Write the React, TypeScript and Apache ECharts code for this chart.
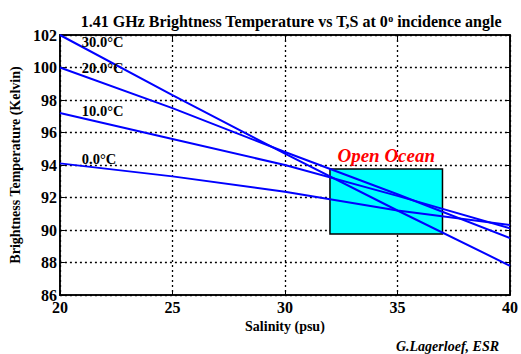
import React, { useEffect, useRef } from "react";
import * as echarts from "echarts";

const salinity = [20, 25, 30, 35, 40];
const tb30 = [102.0, 98.3, 94.7, 91.2, 87.8];
const tb20 = [100.0, 97.5, 94.8, 92.2, 89.5];
const tb10 = [97.2, 95.6, 94.0, 92.1, 90.1];
const tb0 = [94.1, 93.3, 92.35, 91.2, 90.3];
const curveNames = ["30.0°C", "20.0°C", "10.0°C", "0.0°C"];
const curves = [tb30, tb20, tb10, tb0];
const labelAnchors: [number, number][] = [
  [20.95, 101.6],
  [20.95, 99.95],
  [20.95, 97.3],
  [20.95, 94.4],
];
const oceanSal = [32, 37];
const oceanTb = [89.75, 93.75];
const xTicks = [20, 25, 30, 35, 40];
const yTicks = [86, 88, 90, 92, 94, 96, 98, 100, 102];

const SERIF = "'Liberation Serif', 'Times New Roman', serif";

export default function App() {
  const ref = useRef<HTMLDivElement>(null);
  useEffect(() => {
    if (!ref.current) return;
    const chart = echarts.init(ref.current, undefined, { renderer: "svg" });
    const gridLine = {
      show: true,
      lineStyle: { color: "#000", width: 1.3, type: [2, 3] as any },
    };
    const lineSeries = curves.map((vals, i) => ({
      name: curveNames[i],
      type: "line",
      z: 3,
      symbol: "none",
      data: salinity.map((s, j) => [s, vals[j]]),
      lineStyle: { color: "#0000ff", width: 2 },
      markPoint: {
        symbol: "rect",
        symbolSize: 1,
        itemStyle: { color: "transparent" },
        silent: true,
        data: [
          {
            coord: labelAnchors[i],
            label: {
              show: true,
              position: "right",
              distance: 0,
              formatter: curveNames[i],
              color: "#000",
              fontFamily: SERIF,
              fontSize: 14.5,
              fontWeight: "bold",
            },
          },
        ],
      },
    }));
    chart.setOption({
      animation: false,
      backgroundColor: "#fff",
      title: {
        text: "1.41 GHz Brightness Temperature vs T,S at 0{sup|o} incidence angle",
        left: 286,
        top: 8,
        textAlign: "center",
        textStyle: {
          fontFamily: SERIF,
          fontSize: 16,
          fontWeight: "bold",
          color: "#000",
          rich: {
            sup: { fontFamily: SERIF, fontSize: 10, fontWeight: "bold", verticalAlign: "top", color: "#000", padding: [0, 0, 6, 0] },
          },
        },
      },
      grid: {
        left: 59.5,
        top: 35,
        width: 454,
        height: 260,
        show: true,
        borderColor: "#000",
        borderWidth: 1.5,
        backgroundColor: "transparent",
      },
      xAxis: [
        {
          type: "value",
          min: xTicks[0],
          max: xTicks[xTicks.length - 1],
          interval: 5,
          name: "Salinity (psu)",
          nameLocation: "middle",
          nameGap: 17,
          nameTextStyle: { fontFamily: SERIF, fontSize: 14, fontWeight: "bold", color: "#000" },
          axisLine: { show: true, lineStyle: { color: "#000", width: 1.5 } },
          axisTick: { show: true, inside: true, length: 5, lineStyle: { color: "#000" } },
          axisLabel: { fontFamily: SERIF, fontSize: 16, fontWeight: "bold", color: "#000", margin: 4 },
          splitLine: gridLine,
        },
        {
          type: "value",
          position: "top",
          min: xTicks[0],
          max: xTicks[xTicks.length - 1],
          interval: 5,
          axisLine: { show: true, lineStyle: { color: "#000", width: 1.5 } },
          axisTick: { show: true, inside: true, length: 5, lineStyle: { color: "#000" } },
          axisLabel: { show: false },
          splitLine: { show: false },
        },
      ],
      yAxis: [
        {
          type: "value",
          min: yTicks[0],
          max: yTicks[yTicks.length - 1],
          interval: 2,
          name: "Brightness Temperature (Kelvin)",
          nameLocation: "middle",
          nameGap: 29,
          nameTextStyle: { fontFamily: SERIF, fontSize: 14, fontWeight: "bold", color: "#000" },
          axisLine: { show: true, lineStyle: { color: "#000", width: 1.5 } },
          axisTick: { show: true, inside: true, length: 5, lineStyle: { color: "#000" } },
          axisLabel: { fontFamily: SERIF, fontSize: 16, fontWeight: "bold", color: "#000", margin: 3 },
          splitLine: gridLine,
        },
        {
          type: "value",
          position: "right",
          min: yTicks[0],
          max: yTicks[yTicks.length - 1],
          interval: 2,
          axisLine: { show: true, lineStyle: { color: "#000", width: 1.5 } },
          axisTick: { show: true, inside: true, length: 5, lineStyle: { color: "#000" } },
          axisLabel: { show: false },
          splitLine: { show: false },
        },
      ],
      graphic: [
        {
          type: "text",
          right: 22,
          top: 339,
          style: {
            text: "G.Lagerloef, ESR",
            fontFamily: SERIF,
            fontSize: 14,
            fontWeight: "bold",
            fontStyle: "italic",
            fill: "#000",
          },
        },
      ],
      series: [
        {
          name: "Open Ocean",
          type: "line",
          z: 1,
          data: [],
          markArea: {
            silent: true,
            itemStyle: { color: "#00ffff", borderColor: "#000", borderWidth: 1.5, opacity: 1 },
            label: {
              show: true,
              position: "top",
              distance: 3,
              color: "#ff0000",
              fontFamily: SERIF,
              fontSize: 19,
              fontWeight: "bold",
              fontStyle: "italic",
            },
            data: [
              [
                { name: "Open Ocean", coord: [oceanSal[0], oceanTb[1]] },
                { coord: [oceanSal[1], oceanTb[0]] },
              ],
            ],
          },
        },
        ...lineSeries,
      ],
    });
    return () => chart.dispose();
  }, []);
  return (
    <div
      ref={ref}
      style={{ position: "fixed", left: 0, top: 0, width: 521, height: 354, background: "#fff" }}
    />
  );
}
